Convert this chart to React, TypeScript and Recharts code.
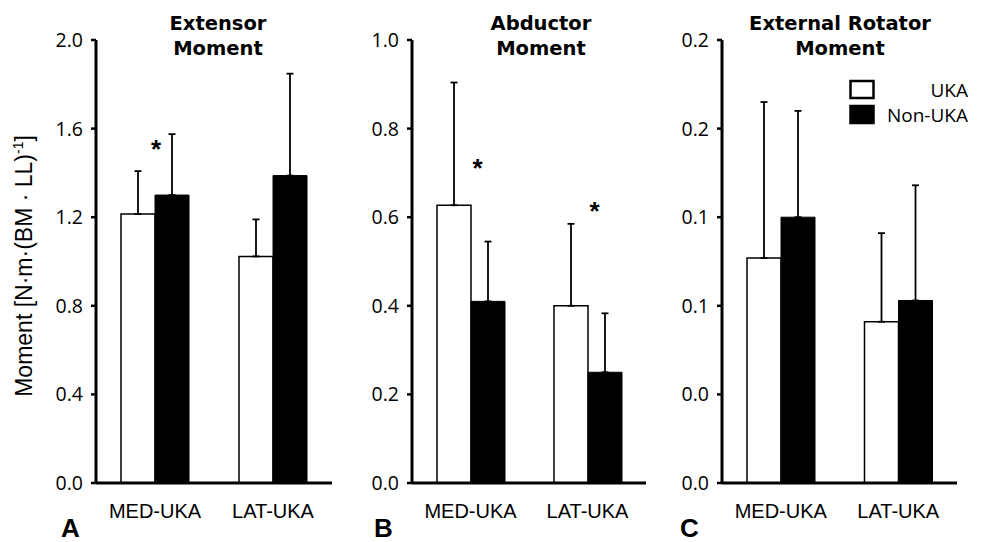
import React from 'react';
import {
  BarChart,
  Bar,
  XAxis,
  YAxis,
  ErrorBar,
  ReferenceDot,
  Legend,
} from 'recharts';

// categories + series values (mean and one-sided SD)
const categories = ['MED-UKA', 'LAT-UKA'];

const extensorUka = [1.214, 1.023];
const extensorUkaSd = [0.194, 0.167];
const extensorNon = [1.3, 1.388];
const extensorNonSd = [0.275, 0.46];

const abductorUka = [0.627, 0.4];
const abductorUkaSd = [0.277, 0.185];
const abductorNon = [0.41, 0.25];
const abductorNonSd = [0.135, 0.133];

const rotatorUka = [0.127, 0.091];
const rotatorUkaSd = [0.088, 0.05];
const rotatorNon = [0.15, 0.103];
const rotatorNonSd = [0.06, 0.065];

// significance asterisks
const extensorMarks = [{ cat: 'MED-UKA', y: 1.525 }];
const abductorMarks = [
  { cat: 'MED-UKA', y: 0.72 },
  { cat: 'LAT-UKA', y: 0.623 },
];
const rotatorMarks: { cat: string; y: number }[] = [];

// axis ticks and labels
const extensorTicks = [0, 0.4, 0.8, 1.2, 1.6, 2.0];
const extensorTickLabels = ['0.0', '0.4', '0.8', '1.2', '1.6', '2.0'];
const abductorTicks = [0, 0.2, 0.4, 0.6, 0.8, 1.0];
const abductorTickLabels = ['0.0', '0.2', '0.4', '0.6', '0.8', '1.0'];
const rotatorTicks = [0, 0.05, 0.1, 0.15, 0.2, 0.25];
const rotatorTickLabels = ['0.0', '0.0', '0.1', '0.1', '0.2', '0.2'];

const seriesNames = ['UKA', 'Non-UKA'];

const makeRows = (uka: number[], ukaSd: number[], non: number[], nonSd: number[]) =>
  categories.map((name, i) => ({
    name,
    uka: uka[i],
    non: non[i],
    ukaErr: [0, ukaSd[i]],
    nonErr: [0, nonSd[i]],
  }));

const Y_W = 60;
const TOP = 40;
const PLOT_H = 443;
const CHART_H = 542;

const legendBoxes: Record<string, { fill: string; stroke: string }> = {
  UKA: { fill: '#fff', stroke: '#000' },
  'Non-UKA': { fill: '#000', stroke: '#000' },
};

const renderLegend = (props: any) => {
  const payload = [...(props.payload || [])].sort(
    (a: any, b: any) => seriesNames.indexOf(a.value) - seriesNames.indexOf(b.value)
  );
  return (
    <svg width={125} height={50} style={{ display: 'block' }}>
      {payload.map((entry: any, i: number) => {
        const box = legendBoxes[entry.value] || { fill: '#000', stroke: '#000' };
        return (
          <g key={`leg-${i}`}>
            <rect
              x={1.5}
              y={3 + i * 25}
              width={23}
              height={17}
              fill={box.fill}
              stroke={box.stroke}
              strokeWidth={2.5}
            />
            <text
              x={119}
              y={19 + i * 25}
              textAnchor="end"
              fontFamily="'Open Sans', sans-serif"
              fontSize={19}
              fill="#000"
            >
              {entry.value}
            </text>
          </g>
        );
      })}
    </svg>
  );
};

interface PanelProps {
  rows: any[];
  ticks: number[];
  tickLabels: string[];
  max: number;
  axisX: number;
  plotW: number;
  marks: { cat: string; y: number }[];
  markDx: number;
  showLegend?: boolean;
}

const Panel: React.FC<PanelProps> = ({
  rows,
  ticks,
  tickLabels,
  max,
  axisX,
  plotW,
  marks,
  markDx,
  showLegend,
}) => {
  const left = axisX - Y_W;
  return (
    <div style={{ position: 'absolute', left, top: 0 }}>
      <BarChart
        width={Y_W + plotW + 30}
        height={CHART_H}
        data={rows}
        margin={{ top: TOP, right: 30, left: 0, bottom: 0 }}
        barGap={0}
      >
        <XAxis
          dataKey="name"
          height={CHART_H - TOP - PLOT_H}
          axisLine={{ stroke: '#000', strokeWidth: 3 }}
          tickLine={false}
          tickSize={6}
          tickMargin={15}
          tick={{
            fill: '#000',
            fontSize: 20,
            fontFamily: "'Liberation Sans', Arial, sans-serif",
          }}
        />
        <YAxis
          width={Y_W}
          type="number"
          domain={[0, max]}
          allowDataOverflow
          ticks={ticks}
          interval={0}
          tickFormatter={(v: number, i: number) => tickLabels[i] ?? String(v)}
          axisLine={{ stroke: '#000', strokeWidth: 3 }}
          tickLine={{ stroke: '#000', strokeWidth: 2.5 }}
          tickSize={5}
          tickMargin={8}
          tick={{
            fill: '#000',
            fontSize: 19.5,
            fontFamily: "'Open Sans', sans-serif",
          }}
        />
        <Bar
          dataKey="uka"
          name={seriesNames[0]}
          barSize={34}
          fill="#fff"
          stroke="#000"
          strokeWidth={1.5}
          isAnimationActive={false}
        >
          <ErrorBar
            dataKey="ukaErr"
            direction="y"
            width={3.5}
            stroke="#000"
            strokeWidth={1.8}
            isAnimationActive={false}
          />
        </Bar>
        <Bar
          dataKey="non"
          name={seriesNames[1]}
          barSize={34}
          fill="#000"
          stroke="#000"
          strokeWidth={1}
          isAnimationActive={false}
        >
          <ErrorBar
            dataKey="nonErr"
            direction="y"
            width={3.5}
            stroke="#000"
            strokeWidth={1.8}
            isAnimationActive={false}
          />
        </Bar>
        {marks.map((m, i) => (
          <ReferenceDot
            key={`mark-${i}`}
            x={m.cat}
            y={m.y}
            r={0}
            shape={(p: any) => (
              <text
                x={p.cx + markDx}
                y={p.cy + 13}
                textAnchor="middle"
                fontFamily="'Liberation Sans', Arial, sans-serif"
                fontWeight="bold"
                fontSize={26}
                fill="#000"
              >
                *
              </text>
            )}
          />
        ))}
        {showLegend && (
          <Legend
            layout="horizontal"
            verticalAlign="middle"
            align="center"
            content={renderLegend}
            wrapperStyle={{ left: 851 - left - 2, top: 78, width: 125, height: 50 }}
          />
        )}
      </BarChart>
    </div>
  );
};

const titleFont = "'DejaVu Sans', Verdana, sans-serif";
const labelFont = "'Liberation Sans', Arial, sans-serif";

const App: React.FC = () => {
  const extensorRows = makeRows(extensorUka, extensorUkaSd, extensorNon, extensorNonSd);
  const abductorRows = makeRows(abductorUka, abductorUkaSd, abductorNon, abductorNonSd);
  const rotatorRows = makeRows(rotatorUka, rotatorUkaSd, rotatorNon, rotatorNonSd);

  return (
    <div
      style={{
        position: 'absolute',
        left: 0,
        top: 0,
        width: 986,
        height: 542,
        background: '#fff',
        overflow: 'hidden',
      }}
    >
      <Panel
        rows={extensorRows}
        ticks={extensorTicks}
        tickLabels={extensorTickLabels}
        max={2}
        axisX={96}
        plotW={236}
        marks={extensorMarks}
        markDx={1}
      />
      <Panel
        rows={abductorRows}
        ticks={abductorTicks}
        tickLabels={abductorTickLabels}
        max={1}
        axisX={412}
        plotW={234}
        marks={abductorMarks}
        markDx={7}
      />
      <Panel
        rows={rotatorRows}
        ticks={rotatorTicks}
        tickLabels={rotatorTickLabels}
        max={0.25}
        axisX={722}
        plotW={235}
        marks={rotatorMarks}
        markDx={0}
        showLegend
      />
      <svg
        width={986}
        height={542}
        style={{ position: 'absolute', left: 0, top: 0, pointerEvents: 'none' }}
      >
        <g fontFamily={titleFont} fontWeight="bold" fontSize={19.5} textAnchor="middle" fill="#000">
          <text x={218} y={30}>Extensor</text>
          <text x={218} y={55}>Moment</text>
          <text x={541} y={30}>Abductor</text>
          <text x={541} y={55}>Moment</text>
          <text x={840} y={30}>External Rotator</text>
          <text x={840} y={55}>Moment</text>
        </g>
        <g fontFamily={labelFont} fontWeight="bold" fontSize={26} fill="#000">
          <text x={61} y={537}>A</text>
          <text x={374} y={537}>B</text>
          <text x={680} y={537}>C</text>
        </g>
        <text
          transform="translate(32, 266) rotate(-90)"
          textAnchor="middle"
          fontFamily={labelFont}
          fontSize={23}
          fill="#000"
        >
          Moment [N·m·(BM · LL)
          <tspan dy={-9} fontSize={14}>-1</tspan>
          <tspan dy={9}>]</tspan>
        </text>
      </svg>
    </div>
  );
};

export default App;
